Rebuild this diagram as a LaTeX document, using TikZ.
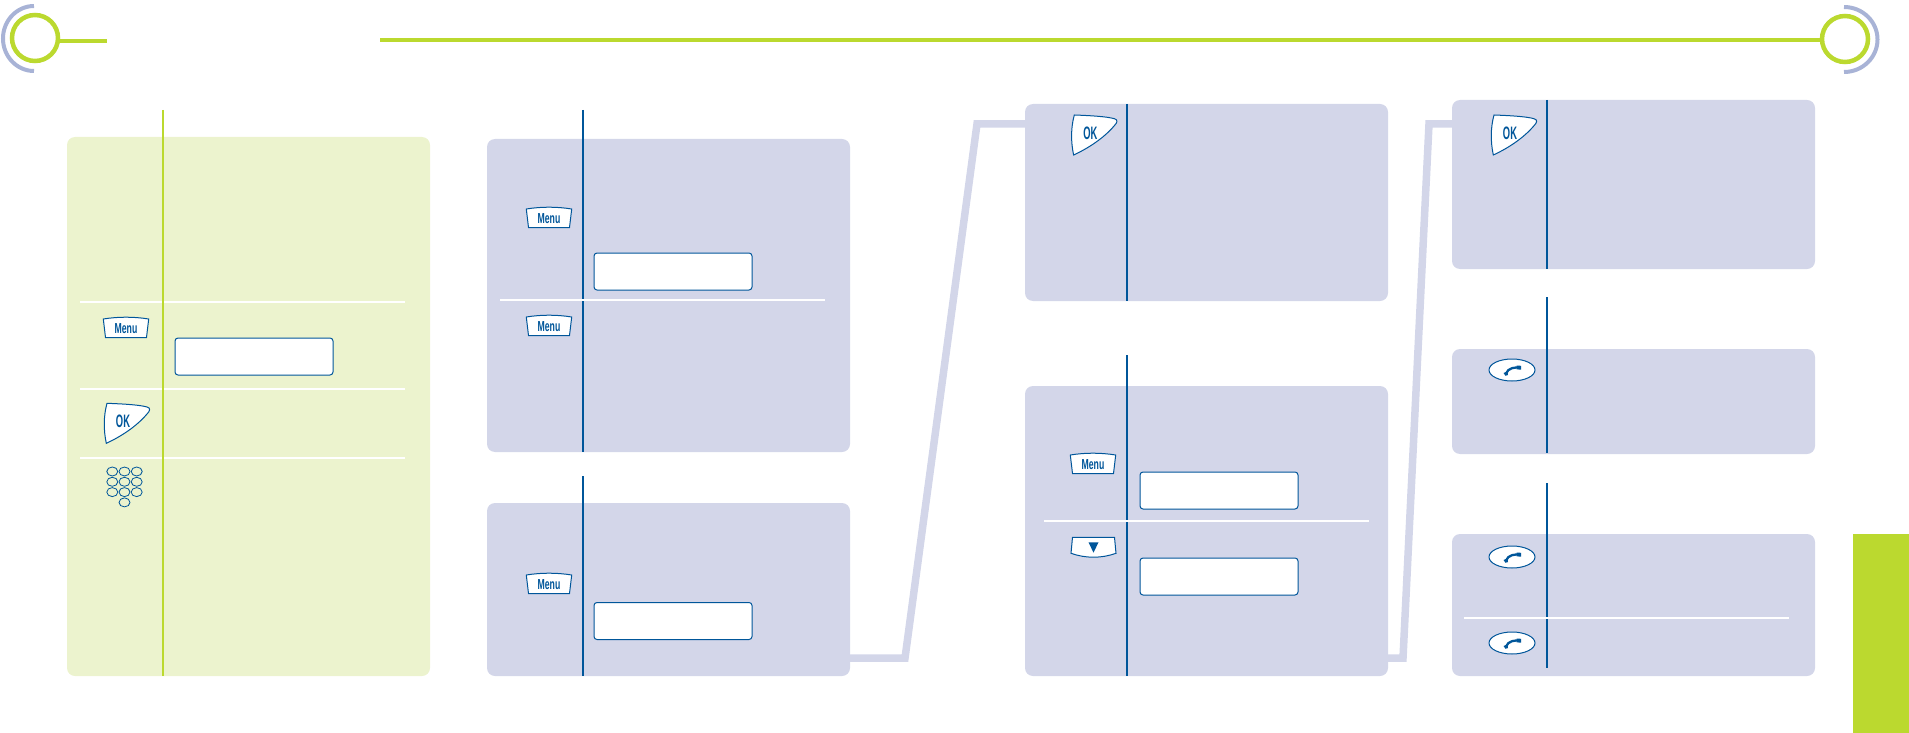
\documentclass[tikz,border=0pt]{standalone}
\usepackage{fontspec}
\newfontfamily\menufont[FakeStretch=0.6]{Liberation Sans}
\newfontfamily\okfont[FakeStretch=0.52]{Liberation Sans}
\definecolor{limeline}{HTML}{BBD92F}
\definecolor{limepale}{HTML}{ECF3CE}
\definecolor{bluepale}{HTML}{D3D6E9}
\definecolor{bluearc}{HTML}{A8B3D6}
\definecolor{bluekey}{HTML}{00569A}
\tikzset{
   menukey/.pic={
      \draw[keyline] (-22.7,-9) .. controls (-8,-11.4) and (8,-11.4) .. (22.7,-9) -- (20.5,9.5) -- (-20.5,9.5) -- cycle;
      \node[keytext, font=\menufont\bfseries\fontsize{14.5}{15}\selectfont] (-label) at (0,0.3) {Menu};
   },
   okkey/.pic={
      \draw[keyline] (-19,-19.7) .. controls (0,-19) and (14,-18) .. (21,-16) .. controls (25,-15) and (24,-12) .. (21,-9)
         .. controls (10,4) and (-6,14) .. (-19.7,20.3) .. controls (-22.5,7) and (-22.5,-7) .. cycle;
      \node[keytext, font=\okfont\bfseries\fontsize{18}{19}\selectfont] (-label) at (-3,-1.5) {OK};
   },
   downkey/.pic={
      \draw[keyline] (-21,-9.7) -- (21,-9.7) -- (22.5,6.3) .. controls (8,11.5) and (-8,11.5) .. (-22.5,6.3) -- cycle;
      \fill[bluekey] (-5,-4.7) -- (5,-4.7) -- (0,5.7) -- cycle;
   },
   phonekey/.pic={
      \draw[keyline] (0,0) ellipse [x radius=23, y radius=11];
      \draw[bluekey, line width=2.3pt] (-6,3.5) .. controls (-4,-2) and (3,-3.2) .. (8,-2.2);
      \fill[bluekey] (-8.5,3) -- (-4.5,1.5) -- (-4,5) -- (-6.5,5.8) -- cycle;
      \fill[bluekey] (4.5,-4.5) -- (9,-4.2) -- (9,-0.4) -- (4.5,-0.6) -- cycle;
   },
   padkey/.pic={
      \foreach \col/\row in {0/0, 1/0, 2/0, 0/1, 1/1, 2/1, 0/2, 1/2, 2/2, 1/3}
         \draw[keyline, fill=none, line width=0.8pt] (-12.7+12.2*\col,-15.5+10.3*\row) ellipse [x radius=5.5, y radius=4.5];
   }
}

\begin{document}
\begin{tikzpicture}[x=1pt, y=-1pt]
   \tikzstyle{panel}=[rectangle, rounded corners=8pt, minimum width=363pt, inner sep=0pt, outer sep=0pt]
   \tikzstyle{bluepanel}=[panel, fill=bluepale]
   \tikzstyle{limepanel}=[panel, fill=limepale]
   \tikzstyle{screen}=[rectangle, rounded corners=3pt, draw=bluekey, fill=white, line width=1pt, minimum width=158pt, minimum height=37pt, inner sep=0pt]
   \tikzstyle{keyline}=[draw=bluekey, fill=white, line width=1pt]
   \tikzstyle{keytext}=[text=bluekey, inner sep=0pt]
   \tikzstyle{link}=[draw=bluepale, line width=7.5pt, miter limit=10]
   \tikzstyle{ring}=[circle, draw=limeline, line width=4.5pt, minimum size=46pt, inner sep=0pt]
   \tikzstyle{bar}=[draw=limeline, line width=4pt]
   \tikzstyle{halo}=[draw=bluearc, line width=4pt]
   \tikzstyle{limerule}=[draw=limeline, line width=2.4pt]
   \tikzstyle{bluerule}=[draw=bluekey, line width=2.4pt]
   \tikzstyle{whiterule}=[draw=white, line width=2pt]

   \useasboundingbox (0,0) rectangle (1909,733);

   % header
   \draw[halo] (34,6) arc [start angle=-90, delta angle=-180, x radius=31, y radius=32.5];
   \draw[halo] (1844,7) arc [start angle=-90, delta angle=180, x radius=33.5, y radius=32.5];
   \node[ring] (ringl) at (35,38) {};
   \node[ring] (ringr) at (1845,39) {};
   \coordinate (barl) at (107,41);
   \coordinate (barr) at (380,40);
   \draw[bar] ([yshift=-3pt]ringl.east) -- (barl);
   \draw[bar] (barr) -- ([yshift=-1pt]ringr.west);

   % panels
   \node[limepanel, minimum height=539pt] (pa) at (248.5,406.5) {};
   \node[bluepanel, minimum height=313pt] (pb) at (668.5,295.5) {};
   \node[bluepanel, minimum height=173pt] (pc) at (668.5,589.5) {};
   \node[bluepanel, minimum height=197pt] (pd) at (1206.5,202.5) {};
   \node[bluepanel, minimum height=290pt] (pe) at (1206.5,531) {};
   \node[bluepanel, minimum height=169pt] (pf) at (1633.5,184.5) {};
   \node[bluepanel, minimum height=105pt] (pg) at (1633.5,401.5) {};
   \node[bluepanel, minimum height=142pt] (ph) at (1633.5,605) {};
   \node[fill=limeline, minimum width=56pt, minimum height=199pt, inner sep=0pt] (tab) at (1881,633.5) {};

   % links between panels
   \coordinate (linka) at (905,658);
   \coordinate (linkb) at (977,124);
   \coordinate (linkc) at (1403,658);
   \coordinate (linkd) at (1429,124);
   \draw[link] ([yshift=-68.5pt]pc.east) -- (linka) -- (linkb) -- ([yshift=78.5pt]pd.west);
   \draw[link] ([yshift=-127pt]pe.east) -- (linkc) -- (linkd) -- ([yshift=60.5pt]pf.west);

   % white rules and column lines
   \draw[whiterule] (80,302) -- (405,302);
   \draw[whiterule] (80,389) -- (405,389);
   \draw[whiterule] (80,458) -- (405,458);
   \draw[limerule] (163,110) -- (163,676);
   \draw[bluerule] (583,110) -- (583,452);
   \draw[bluerule] (583,476) -- (583,676);
   \draw[bluerule] (1127,104) -- (1127,301);
   \draw[bluerule] (1127,355) -- (1127,676);
   \draw[bluerule] (1547,100) -- (1547,269);
   \draw[bluerule] (1547,297) -- (1547,453);
   \draw[bluerule] (1547,483) -- (1547,668);
   \draw[whiterule] (500,300) -- (825,300);
   \draw[whiterule] (1044,521) -- (1369,521);
   \draw[whiterule] (1464,618) -- (1789,618);

   % screens
   \node[screen] (screena) at (254,356.5) {};
   \node[screen] (screenb) at (673,271.5) {};
   \node[screen] (screenc) at (673,621) {};
   \node[screen] (screend) at (1219,490.5) {};
   \node[screen] (screene) at (1219,576.5) {};

   % keys
   \pic (menua) at (126,328) {menukey};
   \pic (menub) at (549,218) {menukey};
   \pic (menuc) at (549,326) {menukey};
   \pic (menud) at (549,584) {menukey};
   \pic (menue) at (1093,464) {menukey};
   \pic (oka) at (126,423) {okkey};
   \pic (okb) at (1093.3,134.7) {okkey};
   \pic (okc) at (1513,134.7) {okkey};
   \pic (downa) at (1093.5,547) {downkey};
   \pic (pada) at (125,487) {padkey};
   \pic (phonea) at (1512,370) {phonekey};
   \pic (phoneb) at (1512,557) {phonekey};
   \pic (phonec) at (1512,643) {phonekey};
\end{tikzpicture}
\end{document}
